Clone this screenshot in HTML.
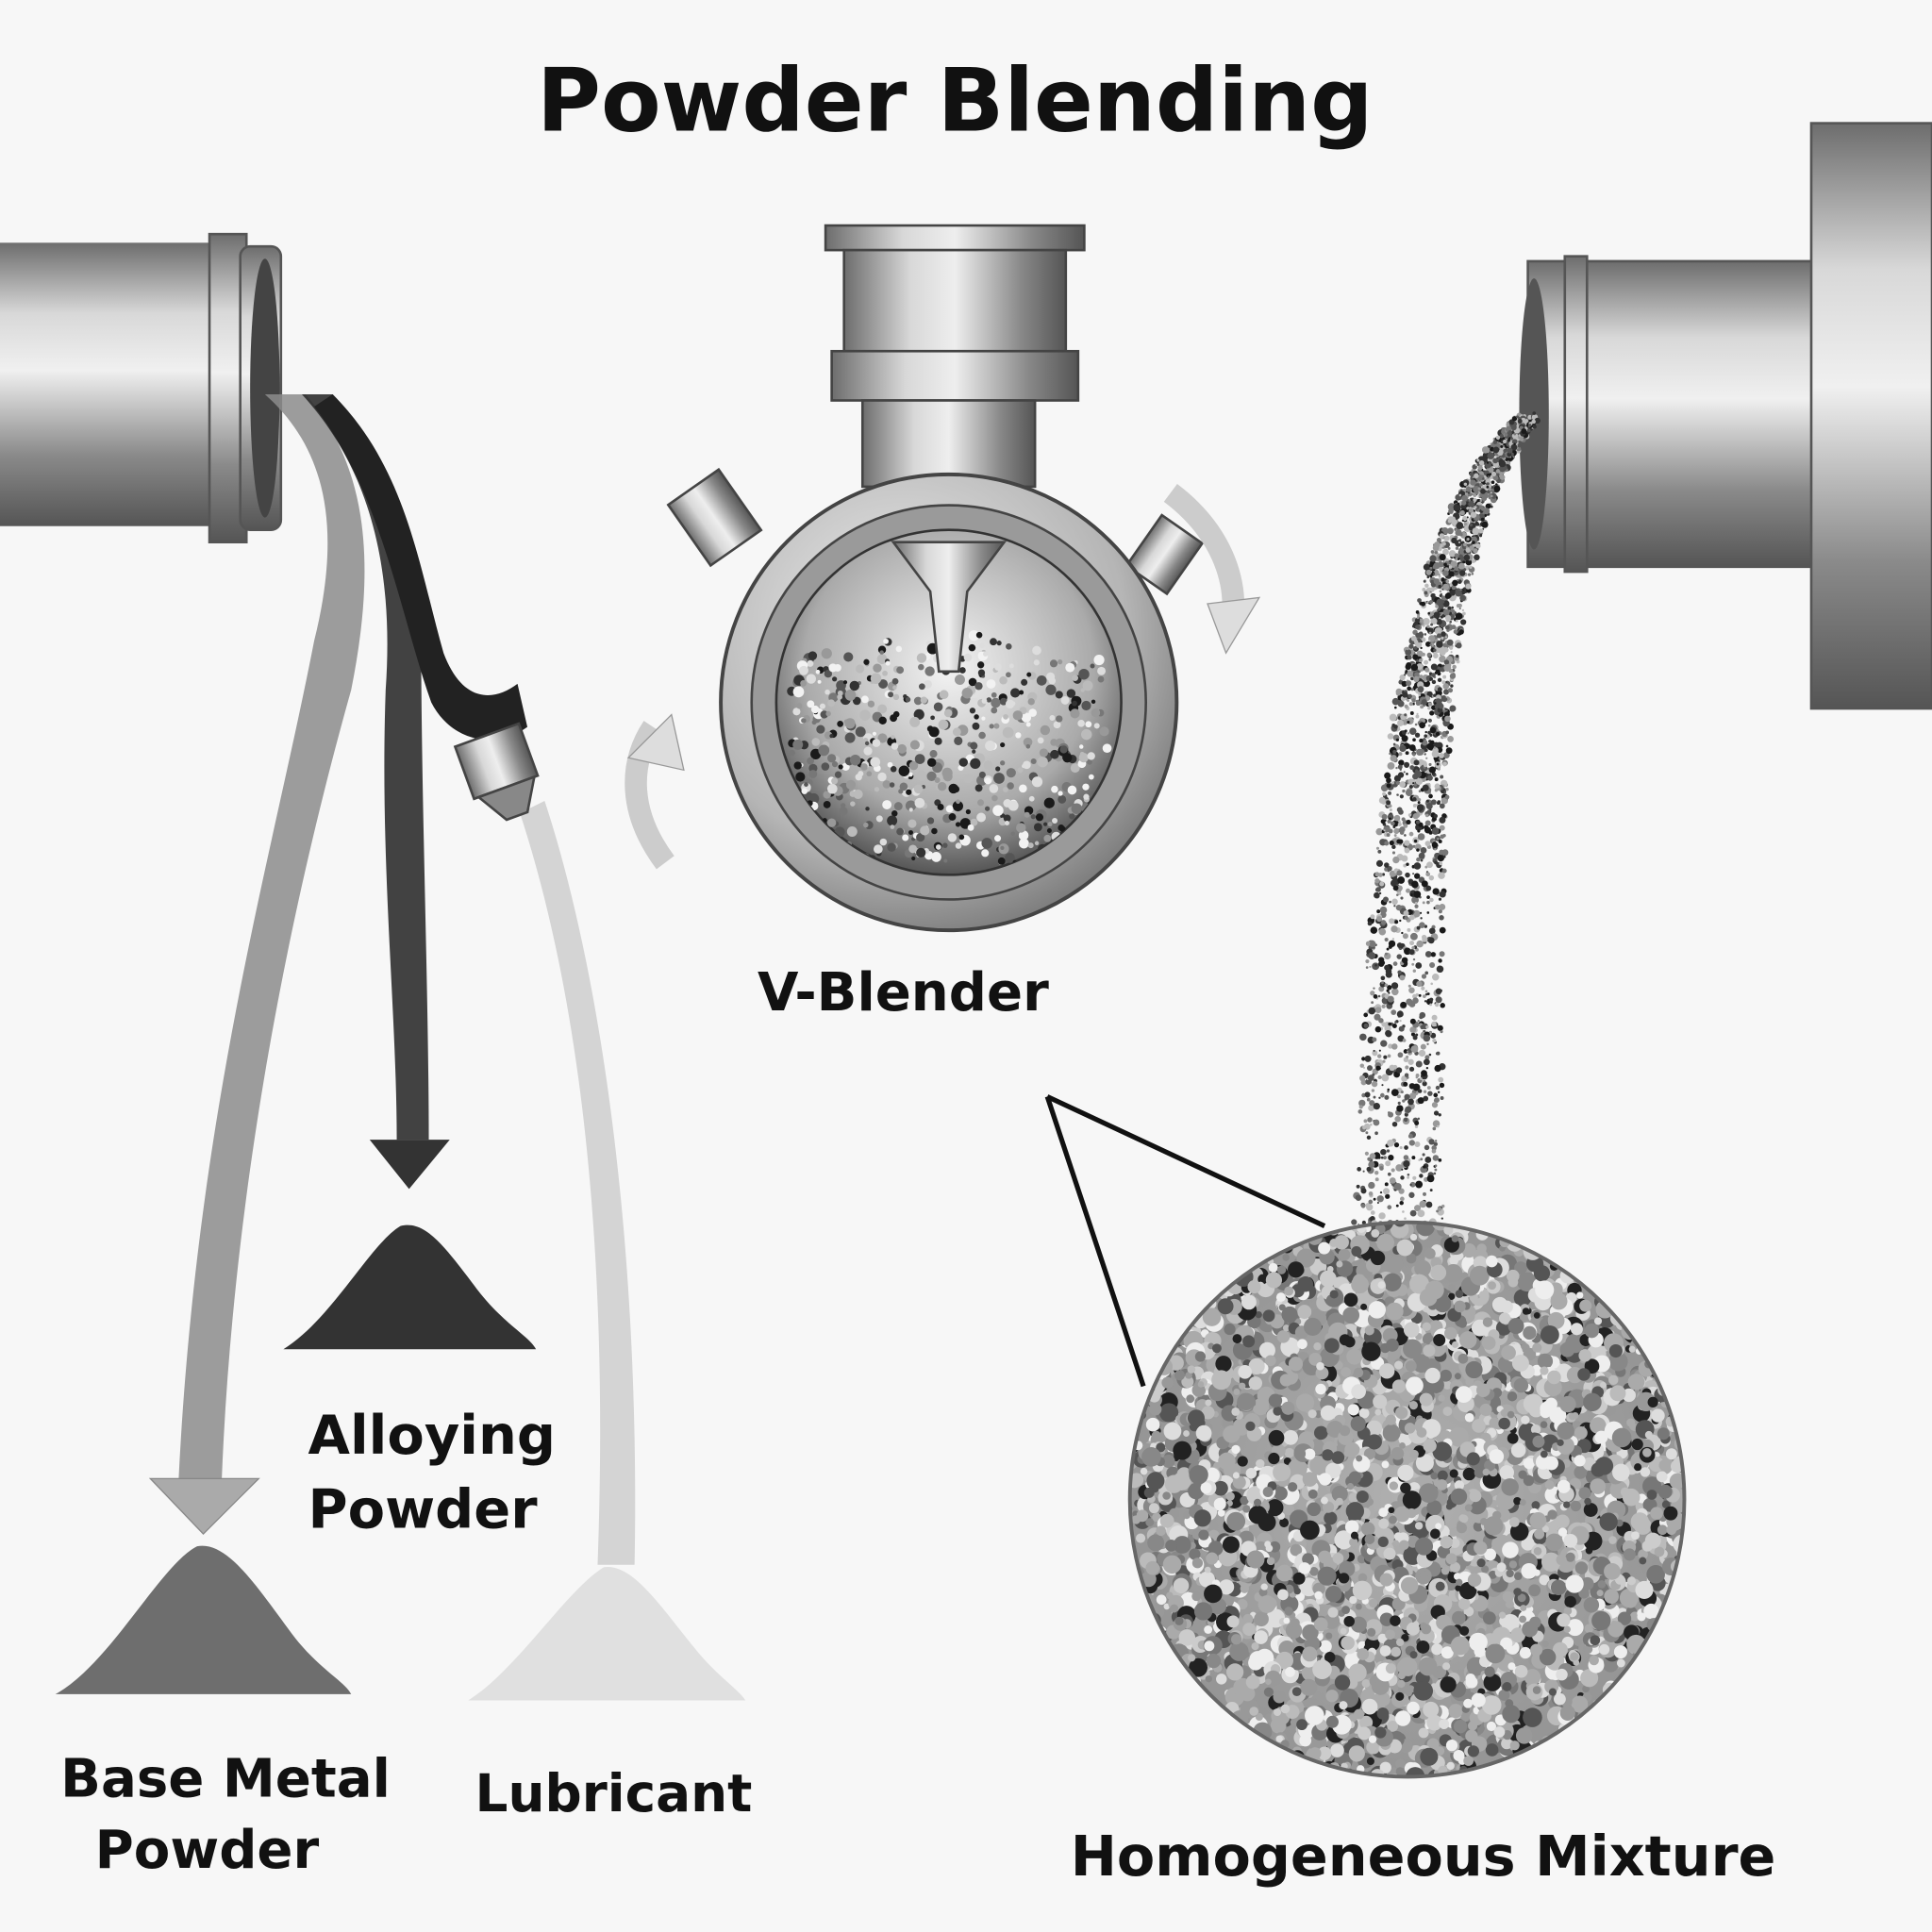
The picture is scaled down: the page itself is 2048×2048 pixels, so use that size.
<!DOCTYPE html>
<html><head><meta charset="utf-8">
<style>
html,body{margin:0;padding:0;background:#f7f7f7;}
svg{display:block;}
text{font-family:"DejaVu Sans","Liberation Sans",sans-serif;font-weight:bold;fill:#111;}
</style></head>
<body>
<svg id="s" width="2048" height="2048" viewBox="0 0 1568 1568" xmlns="http://www.w3.org/2000/svg">
<defs>
<linearGradient id="pipeV" x1="0" y1="0" x2="0" y2="1">
<stop offset="0" stop-color="#6d6d6d"/><stop offset="0.25" stop-color="#d8d8d8"/><stop offset="0.45" stop-color="#f0f0f0"/><stop offset="0.75" stop-color="#8a8a8a"/><stop offset="1" stop-color="#555"/>
</linearGradient>
<linearGradient id="pipeH" x1="0" y1="0" x2="1" y2="0">
<stop offset="0" stop-color="#6d6d6d"/><stop offset="0.3" stop-color="#d8d8d8"/><stop offset="0.5" stop-color="#eee"/><stop offset="0.8" stop-color="#888"/><stop offset="1" stop-color="#555"/>
</linearGradient>
<radialGradient id="housing" cx="0.4" cy="0.35" r="0.7">
<stop offset="0" stop-color="#eee"/><stop offset="0.7" stop-color="#b5b5b5"/><stop offset="1" stop-color="#777"/>
</radialGradient>
<radialGradient id="inner" cx="0.5" cy="0.4" r="0.6">
<stop offset="0" stop-color="#f4f4f4"/><stop offset="0.7" stop-color="#aaa"/><stop offset="1" stop-color="#555"/>
</radialGradient>
<radialGradient id="mag" cx="0.5" cy="0.5" r="0.5">
<stop offset="0" stop-color="#b0b0b0"/><stop offset="1" stop-color="#959595"/>
</radialGradient>
<clipPath id="magclip"><circle cx="1142" cy="1217" r="225"/></clipPath>
<clipPath id="innerclip"><circle cx="770" cy="570" r="140"/></clipPath>
</defs>

<rect width="1568" height="1568" fill="#f7f7f7"/>
<text x="775" y="106" font-size="71" text-anchor="middle">Powder Blending</text>

<!-- left pipe -->
<rect x="0" y="197" width="180" height="230" fill="url(#pipeV)"/>
<rect x="170" y="190" width="30" height="250" fill="url(#pipeV)" stroke="#555" stroke-width="2"/>
<rect x="195" y="200" width="33" height="230" rx="8" fill="url(#pipeV)" stroke="#555" stroke-width="2"/>
<ellipse cx="215" cy="315" rx="12" ry="105" fill="#444"/>

<!-- streams -->
<path d="M215,320 C260,360 280,420 255,520 C220,700 160,900 145,1200 L180,1200 C190,950 240,720 285,560 C305,460 300,380 248,320 Z" fill="#8c8c8c" opacity="0.85"/>
<path d="M245,320 C300,380 320,460 313,560 C308,700 322,820 322,925 L348,925 C348,820 343,680 342,560 C342,450 322,380 270,320 Z" fill="#2e2e2e" opacity="0.9"/>
<path d="M270,320 C330,380 340,460 360,530 C375,570 400,570 420,555 L428,590 C400,610 365,600 350,570 C325,500 310,400 255,330 Z" fill="#222"/>
<path d="M422,660 C468,800 495,1000 485,1270 L515,1270 C520,1000 485,780 442,650 Z" fill="#cfcfcf" opacity="0.9"/>
<!-- nozzle -->
<g transform="rotate(-20 405 625)"><rect x="378" y="595" width="55" height="45" fill="url(#pipeH)" stroke="#444" stroke-width="2"/><polygon points="382,640 430,640 415,665 397,665" fill="#888" stroke="#444" stroke-width="2"/></g>
<!-- arrows -->
<polygon points="300,925 365,925 332,965" fill="#333"/>
<polygon points="122,1200 210,1200 165,1245" fill="#aaa" stroke="#888"/>
<!-- piles -->
<path d="M230,1095 C270,1070 300,1010 325,995 C345,990 360,1010 390,1050 C410,1075 430,1085 435,1095 Z" fill="#333"/>
<path d="M45,1375 C90,1350 130,1270 160,1255 C185,1250 210,1290 240,1330 C260,1355 280,1365 285,1375 Z" fill="#6e6e6e"/>
<path d="M380,1380 C420,1355 460,1290 490,1272 C515,1268 540,1310 570,1345 C585,1362 600,1372 605,1380 Z" fill="#e0e0e0"/>

<text x="250" y="1180" font-size="44">Alloying</text>
<text x="250" y="1240" font-size="44">Powder</text>
<text x="183" y="1458" font-size="43" text-anchor="middle">Base Metal</text>
<text x="168" y="1516" font-size="43" text-anchor="middle">Powder</text>
<text x="498" y="1470" font-size="42" text-anchor="middle">Lubricant</text>

<!-- V-blender -->
<rect x="670" y="183" width="210" height="20" fill="url(#pipeH)" stroke="#444" stroke-width="2"/>
<rect x="685" y="203" width="180" height="82" fill="url(#pipeH)" stroke="#444" stroke-width="2"/>
<rect x="675" y="285" width="200" height="40" fill="url(#pipeH)" stroke="#444" stroke-width="2"/>
<rect x="700" y="325" width="140" height="70" fill="url(#pipeH)" stroke="#444" stroke-width="2"/>
<g transform="rotate(-35 580 420)"><rect x="555" y="390" width="50" height="60" fill="url(#pipeH)" stroke="#444" stroke-width="2"/></g>
<g transform="rotate(35 945 450)"><rect x="925" y="425" width="40" height="50" fill="url(#pipeH)" stroke="#444" stroke-width="2"/></g>
<circle cx="770" cy="570" r="185" fill="url(#housing)" stroke="#444" stroke-width="3"/>
<circle cx="770" cy="570" r="160" fill="#9a9a9a" stroke="#444" stroke-width="2"/>
<circle cx="770" cy="570" r="140" fill="url(#inner)" stroke="#333" stroke-width="2"/>
<g id="blendDots" clip-path="url(#innerclip)"></g>
<polygon points="725,440 815,440 785,480 778,545 762,545 755,480" fill="url(#pipeH)" stroke="#444" stroke-width="2"/>
<path d="M540,700 C510,660 510,620 530,590" fill="none" stroke="#ccc" stroke-width="18"/>
<polygon points="510,615 545,580 555,625" fill="#ddd" stroke="#999"/>
<path d="M950,400 C990,430 1005,470 1000,505" fill="none" stroke="#ccc" stroke-width="18"/>
<polygon points="980,490 1022,485 995,530" fill="#ddd" stroke="#999"/>
<text x="733" y="820" font-size="43" text-anchor="middle">V-Blender</text>

<!-- right pipe -->
<rect x="1240" y="212" width="240" height="248" fill="url(#pipeV)" stroke="#555" stroke-width="2"/>
<rect x="1270" y="208" width="18" height="256" fill="url(#pipeV)" stroke="#555" stroke-width="2"/>
<ellipse cx="1245" cy="336" rx="12" ry="110" fill="#555"/>
<rect x="1470" y="100" width="98" height="475" fill="url(#pipeV)" stroke="#555" stroke-width="2"/>
<g id="streamDots"></g>

<!-- magnifier -->
<line x1="850" y1="890" x2="1075" y2="995" stroke="#111" stroke-width="4"/>
<line x1="850" y1="890" x2="928" y2="1125" stroke="#111" stroke-width="4"/>
<circle cx="1142" cy="1217" r="225" fill="url(#mag)"/>
<g id="magDots" clip-path="url(#magclip)"></g>
<circle cx="1142" cy="1217" r="225" fill="none" stroke="#666" stroke-width="3"/>
<text x="1155" y="1522" font-size="45" text-anchor="middle">Homogeneous Mixture</text>
</svg>
<script>
(function(){
var s=12345;function r(){s=(s*16807)%2147483647;return s/2147483647;}
var NS="http://www.w3.org/2000/svg";
function dot(g,x,y,rad,fill){var c=document.createElementNS(NS,"circle");c.setAttribute("cx",x.toFixed(1));c.setAttribute("cy",y.toFixed(1));c.setAttribute("r",rad.toFixed(1));c.setAttribute("fill",fill);g.appendChild(c);}
var cols=["#1a1a1a","#333","#555","#777","#999","#bbb","#ddd","#f2f2f2"];
var mcols=["#222","#555","#777","#888","#999","#aaa","#aaa","#bbb","#ccc","#ddd","#eee"];
var m=document.getElementById("magDots");
for(var i=0;i<3200;i++){var a=r()*6.283,d=Math.sqrt(r())*228;dot(m,1142+Math.cos(a)*d,1217+Math.sin(a)*d,2.5+r()*5.5,mcols[Math.floor(r()*mcols.length)]);}
var b=document.getElementById("blendDots");
for(i=0;i<700;i++){var x=640+r()*260,y=500+r()*200;if(y<510+Math.abs(x-770)*0.2)continue;dot(b,x,y,1.5+r()*3,cols[Math.floor(r()*cols.length)]);}
var st=document.getElementById("streamDots");
for(i=0;i<2400;i++){var t=r();
var x0=1240,y0=340,cx1=1160,cy1=420,cx2=1140,cy2=600,x3=1135,y3=1000;
var mt=1-t;var px=mt*mt*mt*x0+3*mt*mt*t*cx1+3*mt*t*t*cx2+t*t*t*x3;var py=mt*mt*mt*y0+3*mt*mt*t*cy1+3*mt*t*t*cy2+t*t*t*y3;
var w=18+t*55;dot(st,px+(r()-0.5)*w,py+(r()-0.5)*10,0.8+r()*2.2,cols[Math.floor(r()*6)]);}
})();
</script>
</body></html>
